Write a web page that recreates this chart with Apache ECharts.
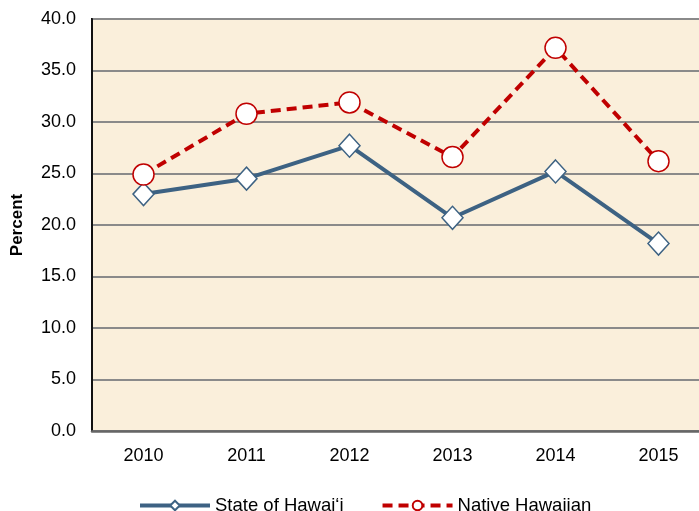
<!DOCTYPE html>
<html>
<head>
    <meta charset="utf-8">
    <script type="text/javascript" src="https://cdn.jsdelivr.net/npm/echarts@6/dist/echarts.min.js"></script>
</head>
<body style="margin:0;background:#fff;">
<div id="main" style="width:699px;height:511px;"></div>
<script type="text/javascript">
    // years and percentages
    var years = ['2010', '2011', '2012', '2013', '2014', '2015'];
    var stateHawaii = [23.0, 24.5, 27.7, 20.7, 25.2, 18.2];
    var nativeHawaiian = [24.9, 30.8, 31.9, 26.6, 37.2, 26.2];

    var myChart = echarts.init(document.getElementById('main'));
    var font = 'Liberation Sans, Arial, sans-serif';
    var option = {
        animation: false,
        textStyle: { fontFamily: font },
        grid: {
            left: 92, top: 19, width: 618, height: 412,
            outerBoundsMode: 'none',
            containLabel: false,
            show: true,
            backgroundColor: '#faefdb',
            borderColor: '#111',
            borderWidth: 2
        },
        legend: {
            top: 491,
            left: 133,
            itemWidth: 70,
            itemHeight: 12,
            itemGap: 37,
            lineStyle: { width: 4 },
            textStyle: { fontSize: 18.5, color: '#000', fontFamily: font },
            data: ['State of Hawai‘i', 'Native Hawaiian']
        },
        xAxis: {
            type: 'category',
            data: years,
            boundaryGap: true,
            axisLine: { lineStyle: { color: '#666', width: 2.5 } },
            axisTick: { show: false },
            axisLabel: { fontSize: 18, color: '#000', margin: 16 }
        },
        yAxis: {
            type: 'value',
            min: 0, max: 40, interval: 5,
            name: 'Percent',
            nameLocation: 'middle',
            nameGap: 66,
            nameTextStyle: { fontSize: 17, fontWeight: 'bold', color: '#000' },
            axisLine: { show: true, lineStyle: { color: '#111', width: 2 } },
            axisTick: { show: false },
            axisLabel: {
                fontSize: 18, color: '#000', margin: 16,
                formatter: function (v) { return v.toFixed(1); }
            },
            splitLine: { lineStyle: { color: '#8a8a8a', width: 2 } }
        },
        series: [
            {
                name: 'State of Hawai‘i',
                type: 'line',
                data: stateHawaii,
                symbol: 'diamond',
                symbolSize: [21, 23],
                lineStyle: { color: '#3d6283', width: 4 },
                itemStyle: { color: '#fff', borderColor: '#3d6283', borderWidth: 1.5 },
                z: 3
            },
            {
                name: 'Native Hawaiian',
                type: 'line',
                data: nativeHawaiian,
                symbol: 'circle',
                symbolSize: 21,
                lineStyle: { color: '#c00000', width: 4, type: [10, 6] },
                itemStyle: { color: '#fff', borderColor: '#c00000', borderWidth: 1.5 },
                z: 4
            }
        ]
    };
    myChart.setOption(option);
</script>
</body>
</html>
